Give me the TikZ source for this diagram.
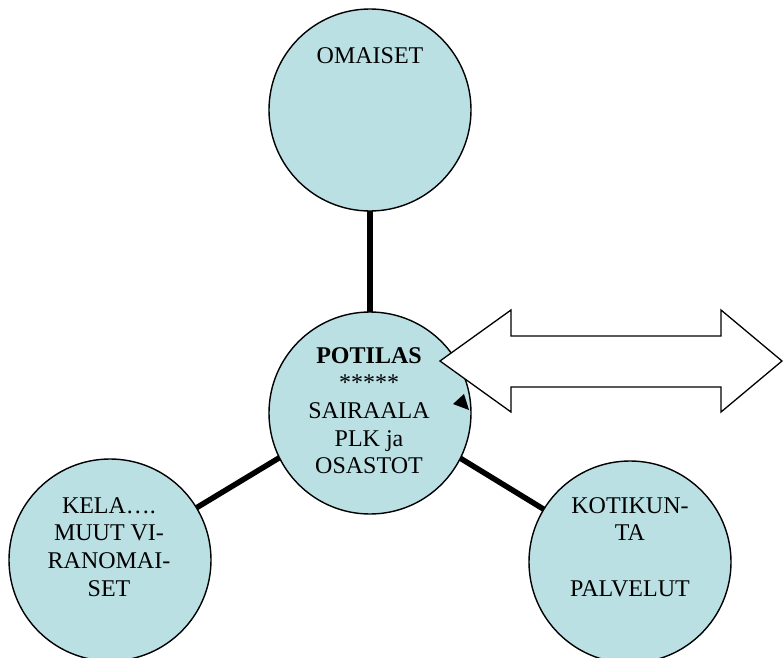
\documentclass[tikz,border=0pt]{standalone}
\usepackage{fontspec}
\setmainfont{Liberation Serif}
\usetikzlibrary{backgrounds}
\definecolor{bub}{RGB}{186,224,228}
\begin{document}
\begin{tikzpicture}[x=1pt,y=-1pt,
  bubble/.style={circle,draw=black,line width=1.4pt,fill=bub,minimum size=202pt,inner sep=0pt},
  link/.style={line width=5.5pt},
  lbl/.style={anchor=north,align=center,inner sep=0pt,text=black,font=\fontsize{24}{27.7}\selectfont},
  dblarrow/.style={draw=black,fill=white,line width=1.3pt,line join=miter}]
\useasboundingbox (0,0) rectangle (784,658);
\clip (0,0) rectangle (784,658);
% circles
\node[bubble] (oma) at (370,110) {};
\node[bubble] (pot) at (370,413) {};
\node[bubble] (kela) at (110,560) {};
\node[bubble] (koti) at (630,562) {};
\coordinate (hub) at (370,403);
% connectors behind
\begin{pgfonlayer}{background}
\draw[link] (oma.center) -- (hub);
\draw[link] (kela.center) -- (hub);
\draw[link] (koti.center) -- (hub);
\end{pgfonlayer}
% labels
\node[lbl] (tOma) at (370,47) {OMAISET};
\node[lbl] (tPot) at (369,347) {\textbf{POTILAS}\\*****\\SAIRAALA\\PLK ja\\OSASTOT};
\node[lbl] (tKela) at (109,497) {KELA….\\MUUT VI-\\RANOMAI-\\SET};
\node[lbl] (tKoti) at (630,497) {KOTIKUN-\\TA\\\mbox{}\\PALVELUT};
% double arrow
\draw[dblarrow] (440,361) -- (511,310) -- (511,336) -- (721,336) -- (721,310)
  -- (782,361) -- (721,412) -- (721,387) -- (511,387) -- (511,412) -- cycle;
% small arrow tip on the circle
\fill[black] (453,404) -- (464,394) -- (469,410) -- cycle;
\end{tikzpicture}
\end{document}
